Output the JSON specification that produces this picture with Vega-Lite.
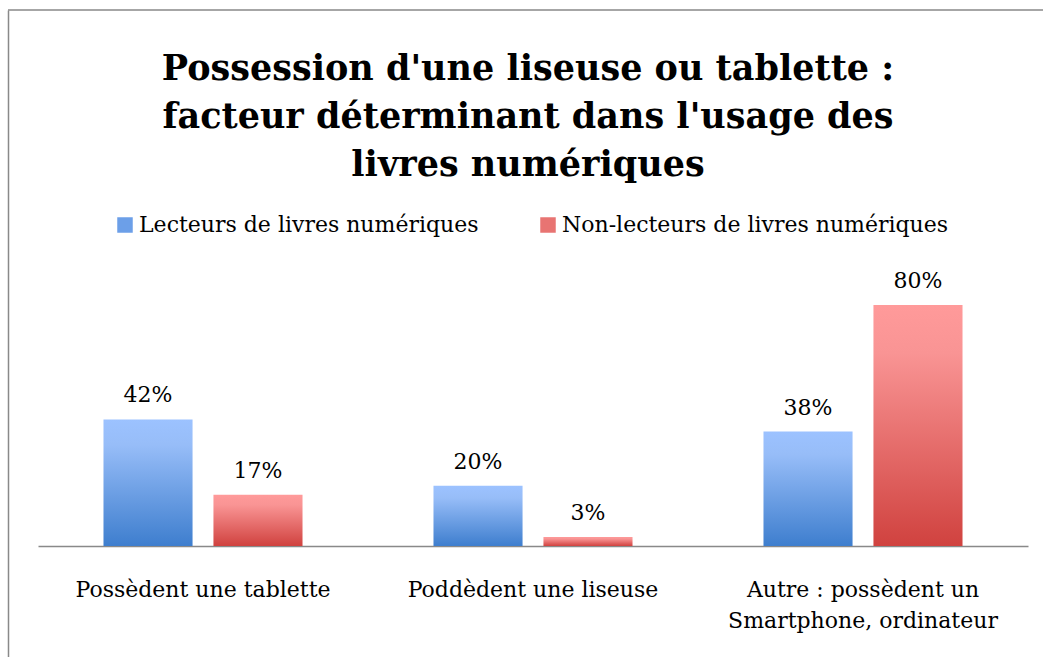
{
  "$schema": "https://vega.github.io/schema/vega-lite/v6.json",
  "width": 1040,
  "height": 652,
  "autosize": {"type": "none"},
  "padding": {"left": 8, "top": 10, "right": -5, "bottom": -5},
  "background": "white",
  "config": {
    "view": {"stroke": null},
    "font": "DejaVu Serif"
  },
  "title": {
    "text": ["Possession d'une liseuse ou tablette :", "facteur déterminant dans l'usage des", "livres numériques"],
    "font": "DejaVu Serif",
    "fontSize": 35,
    "fontWeight": "bold",
    "lineHeight": 48,
    "color": "black",
    "anchor": "middle",
    "baseline": "alphabetic",
    "offset": -202,
    "frame": "group"
  },
  "data": {
    "values": [
      {"categorie": "Possèdent une tablette", "groupe": "Lecteurs de livres numériques", "valeur": 0.42},
      {"categorie": "Possèdent une tablette", "groupe": "Non-lecteurs de livres numériques", "valeur": 0.17},
      {"categorie": "Poddèdent une liseuse", "groupe": "Lecteurs de livres numériques", "valeur": 0.20},
      {"categorie": "Poddèdent une liseuse", "groupe": "Non-lecteurs de livres numériques", "valeur": 0.03},
      {"categorie": "Autre : possèdent un Smartphone, ordinateur", "groupe": "Lecteurs de livres numériques", "valeur": 0.38},
      {"categorie": "Autre : possèdent un Smartphone, ordinateur", "groupe": "Non-lecteurs de livres numériques", "valeur": 0.80}
    ]
  },
  "layer": [
    {
      "transform": [{"filter": "datum.groupe == 'Lecteurs de livres numériques'"}],
      "mark": {
        "type": "bar",
        "color": {"gradient": "linear", "x1": 0, "y1": 0, "x2": 0, "y2": 1, "stops": [{"offset": 0, "color": "#9CC2FF"}, {"offset": 0.2, "color": "#97BDF8"}, {"offset": 1, "color": "#3E7ECE"}]}
      },
      "encoding": {
        "x": {
          "field": "categorie",
          "type": "nominal",
          "sort": ["Possèdent une tablette", "Poddèdent une liseuse", "Autre : possèdent un Smartphone, ordinateur"],
          "scale": {"range": [30, 1020], "paddingInner": 0, "paddingOuter": 0},
          "axis": {
            "title": null,
            "orient": "bottom",
            "offset": -116,
            "labelAngle": 0,
            "ticks": false,
            "grid": false,
            "domainColor": "#898989",
            "domainWidth": 1.5,
            "labelFont": "DejaVu Serif",
            "labelFontSize": 22,
            "labelColor": "black",
            "labelPadding": 33,
            "labelLineHeight": 31,
            "labelLimit": 500,
            "labelExpr": "datum.value == 'Autre : possèdent un Smartphone, ordinateur' ? ['Autre : possèdent un', 'Smartphone, ordinateur'] : datum.label"
          }
        },
        "xOffset": {
          "field": "groupe",
          "type": "nominal",
          "sort": ["Lecteurs de livres numériques", "Non-lecteurs de livres numériques"],
          "scale": {"domain": ["Lecteurs de livres numériques", "Non-lecteurs de livres numériques"], "paddingInner": 0.19, "paddingOuter": 0.5955}
        },
        "y": {
          "field": "valeur",
          "type": "quantitative",
          "stack": null,
          "scale": {"domain": [-0.38506, 1.77925], "nice": false, "zero": false},
          "axis": {
            "orient": "left",
            "title": null,
            "labels": false,
            "ticks": false,
            "grid": false,
            "domain": true,
            "domainColor": "#898989",
            "domainWidth": 1.5
          }
        },
        "y2": {"datum": 0}
      }
    },
    {
      "transform": [{"filter": "datum.groupe == 'Non-lecteurs de livres numériques'"}],
      "mark": {
        "type": "bar",
        "color": {"gradient": "linear", "x1": 0, "y1": 0, "x2": 0, "y2": 1, "stops": [{"offset": 0, "color": "#FF9A9A"}, {"offset": 0.2, "color": "#F99494"}, {"offset": 1, "color": "#D0423F"}]}
      },
      "encoding": {
        "x": {"field": "categorie", "type": "nominal", "sort": ["Possèdent une tablette", "Poddèdent une liseuse", "Autre : possèdent un Smartphone, ordinateur"]},
        "xOffset": {"field": "groupe", "type": "nominal"},
        "y": {"field": "valeur", "type": "quantitative", "stack": null},
        "y2": {"datum": 0}
      }
    },
    {
      "mark": {"type": "square", "opacity": 0, "size": 10},
      "encoding": {
        "x": {"field": "categorie", "type": "nominal", "sort": ["Possèdent une tablette", "Poddèdent une liseuse", "Autre : possèdent un Smartphone, ordinateur"]},
        "xOffset": {"field": "groupe", "type": "nominal"},
        "y": {"field": "valeur", "type": "quantitative"},
        "color": {
          "field": "groupe",
          "type": "nominal",
          "scale": {
            "domain": ["Lecteurs de livres numériques", "Non-lecteurs de livres numériques"],
            "range": ["#6C9FE8", "#E87472"]
          },
          "legend": {
            "title": null,
            "orient": "none",
            "legendX": 106,
            "legendY": 204,
            "direction": "horizontal",
            "symbolType": "square",
            "symbolSize": 240,
            "symbolStrokeWidth": 0,
            "symbolOpacity": 1,
            "labelFont": "DejaVu Serif",
            "labelFontSize": 22,
            "labelColor": "black",
            "labelOffset": 3,
            "columnPadding": 58,
            "labelLimit": 500,
            "padding": 0
          }
        }
      }
    },
    {
      "mark": {"type": "text", "dy": -17, "baseline": "alphabetic", "fontSize": 22, "font": "DejaVu Serif", "color": "black"},
      "encoding": {
        "x": {"field": "categorie", "type": "nominal", "sort": ["Possèdent une tablette", "Poddèdent une liseuse", "Autre : possèdent un Smartphone, ordinateur"]},
        "xOffset": {"field": "groupe", "type": "nominal"},
        "y": {"field": "valeur", "type": "quantitative"},
        "text": {"field": "valeur", "type": "quantitative", "format": ".0%"}
      }
    },
    {
      "data": {"values": [{"bord": "haut"}]},
      "mark": {"type": "rule", "color": "#898989", "strokeWidth": 1.5},
      "encoding": {"y": {"datum": 1.77925}}
    }
  ]
}
